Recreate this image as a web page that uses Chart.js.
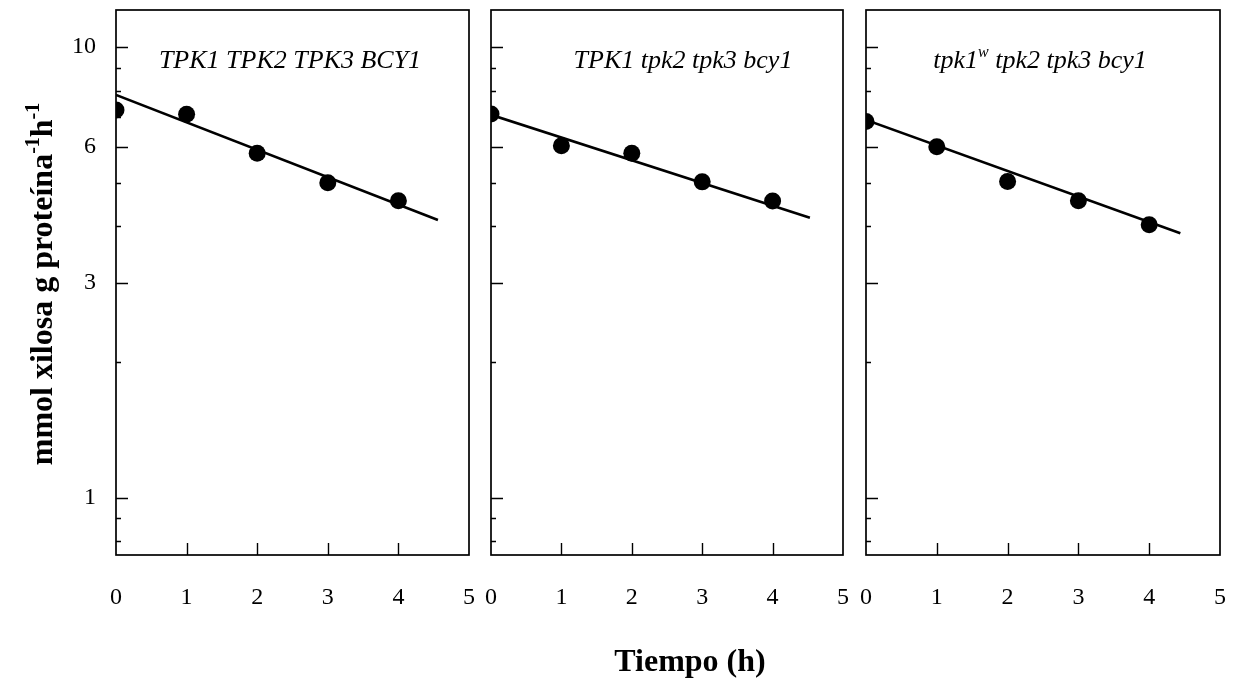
<!DOCTYPE html>
<html>
<head>
<meta charset="utf-8">
<script src="https://cdn.jsdelivr.net/npm/chart.js@4.4.0/dist/chart.umd.min.js"></script>
<style>
  html, body { margin: 0; padding: 0; background: #ffffff; }
  #wrap { position: relative; width: 1245px; height: 685px; overflow: hidden; background: #fff; }
  canvas { position: absolute; left: 0; top: 0; }
</style>
</head>
<body>
<div id="wrap">
  <canvas id="c1" width="1245" height="685"></canvas>
  <canvas id="c2" width="1245" height="685"></canvas>
  <canvas id="c3" width="1245" height="685"></canvas>
</div>
<script>
// ---------- data ----------
const timeH = [0, 1, 2, 3, 4];
const xTickValues = [0, 1, 2, 3, 4, 5];
const xTickLabels = ['0', '1', '2', '3', '4', '5'];
const yTickValues = [1, 3, 6, 10];
const yTickLabels = ['1', '3', '6', '10'];
const yMinorTicks = [0.8, 0.9, 2, 4, 5, 7, 8, 9];
const yMin = 0.746;
const yMax = 12.08;

const wtValues    = [7.25, 7.09, 5.81, 5.00, 4.56];
const tpk1Values  = [7.10, 6.04, 5.81, 5.02, 4.55];
const tpk1wValues = [6.83, 6.01, 5.03, 4.56, 4.03];

const wtFitX    = [0, 4.56];
const wtFitY    = [7.83, 4.13];
const tpk1FitX  = [0, 4.53];
const tpk1FitY  = [7.07, 4.18];
const tpk1wFitX = [0, 4.44];
const tpk1wFitY = [6.89, 3.86];

const titleWt    = [{ t: 'TPK1 TPK2 TPK3 BCY1' }];
const titleTpk1  = [{ t: 'TPK1 tpk2 tpk3 bcy1' }];
const titleTpk1w = [{ t: 'tpk1' }, { t: 'w', sup: true }, { t: ' tpk2 tpk3 bcy1' }];

const yTitle = [{ t: 'mmol xilosa g proteína' }, { t: '-1', sup: true }, { t: 'h' }, { t: '-1', sup: true }];
const xTitle = 'Tiempo (h)';

// ---------- helpers ----------
const SERIF = '"Liberation Serif", "Times New Roman", "DejaVu Serif", serif';

function richWidth(ctx, parts, size, style) {
  let w = 0;
  for (const p of parts) {
    ctx.font = style + ' ' + (p.sup ? Math.round(size * 0.62) : size) + 'px ' + SERIF;
    w += ctx.measureText(p.t).width;
  }
  return w;
}
function drawRich(ctx, parts, cx, baseY, size, style) {
  const w = richWidth(ctx, parts, size, style);
  let x = cx - w / 2;
  ctx.textAlign = 'left';
  ctx.textBaseline = 'alphabetic';
  for (const p of parts) {
    const s = p.sup ? Math.round(size * 0.62) : size;
    ctx.font = style + ' ' + s + 'px ' + SERIF;
    ctx.fillText(p.t, x, p.sup ? baseY - size * 0.42 : baseY);
    x += ctx.measureText(p.t).width;
  }
}

const framePlugin = {
  id: 'frameTicks',
  beforeDatasetsDraw(chart) {
    const { ctx, chartArea: a, scales } = chart;
    ctx.save();
    ctx.strokeStyle = '#000';
    ctx.lineWidth = 1.7;
    ctx.strokeRect(a.left, a.top, a.right - a.left, a.bottom - a.top);
    ctx.lineWidth = 1.4;
    ctx.beginPath();
    for (const v of yTickValues) {
      const y = Math.round(scales.y.getPixelForValue(v)) + 0.5;
      ctx.moveTo(a.left, y); ctx.lineTo(a.left + 12, y);
    }
    for (const v of yMinorTicks) {
      const y = Math.round(scales.y.getPixelForValue(v)) + 0.5;
      ctx.moveTo(a.left, y); ctx.lineTo(a.left + 5, y);
    }
    for (const v of xTickValues) {
      if (v === scales.x.min || v === scales.x.max) continue;
      const x = Math.round(scales.x.getPixelForValue(v)) + 0.5;
      ctx.moveTo(x, a.bottom); ctx.lineTo(x, a.bottom - 12);
    }
    ctx.stroke();
    ctx.restore();
  },
  afterDraw(chart, args, opts) {
    const { ctx } = chart;
    ctx.save();
    ctx.fillStyle = '#000';
    drawRich(ctx, opts.title, opts.titleX, opts.titleY, 26, 'italic');
    if (opts.globalTitles) {
      ctx.save();
      ctx.translate(52, 284);
      ctx.rotate(-Math.PI / 2);
      drawRich(ctx, yTitle, 0, 0, 32, 'bold');
      ctx.restore();
      ctx.font = 'bold 32px ' + SERIF;
      ctx.textAlign = 'center';
      ctx.textBaseline = 'alphabetic';
      ctx.fillText(xTitle, 690, 671);
    }
    ctx.restore();
  }
};

function makePanel(id, values, fitX, fitY, left, right, yWidth, showY, title, titleX, globalTitles) {
  const pts = timeH.map((t, i) => ({ x: t, y: values[i] }));
  const fit = fitX.map((t, i) => ({ x: t, y: fitY[i] }));
  return new Chart(document.getElementById(id), {
    type: 'scatter',
    data: {
      datasets: [
        { data: fit, showLine: true, borderColor: '#000', borderWidth: 2.6, pointRadius: 0, fill: false, order: 2 },
        { data: pts, showLine: false, backgroundColor: '#000', borderColor: '#000', borderWidth: 0, pointRadius: 8.5, order: 1 }
      ]
    },
    options: {
      responsive: false,
      animation: false,
      devicePixelRatio: 1,
      layout: { padding: { left: left - yWidth, right: 1245 - right, top: 10, bottom: 0 } },
      plugins: {
        legend: { display: false },
        tooltip: { enabled: false },
        frameTicks: { title: title, titleX: titleX, titleY: 68, globalTitles: globalTitles }
      },
      scales: {
        x: {
          type: 'linear', min: 0, max: 5, bounds: 'data',
          grid: { display: false, drawTicks: false },
          border: { display: false },
          afterBuildTicks: s => { s.ticks = xTickValues.map(v => ({ value: v })); },
          afterFit: s => { s.height = 130; s.paddingLeft = 0; s.paddingRight = 0; },
          ticks: {
            color: '#000', padding: 28,
            font: { family: SERIF, size: 24 },
            callback: (v) => xTickLabels[xTickValues.indexOf(v)]
          }
        },
        y: {
          type: 'logarithmic', min: yMin, max: yMax, bounds: 'data',
          grid: { display: false, drawTicks: false },
          border: { display: false },
          afterBuildTicks: s => { s.ticks = yTickValues.map(v => ({ value: v })); },
          afterFit: s => { s.width = yWidth; s.paddingTop = 0; s.paddingBottom = 0; },
          ticks: {
            display: showY, color: '#000', padding: 20,
            font: { family: SERIF, size: 24 },
            callback: (v) => yTickLabels[yTickValues.indexOf(v)]
          }
        }
      }
    },
    plugins: [framePlugin]
  });
}

makePanel('c1', wtValues, wtFitX, wtFitY, 116, 469, 116, true, titleWt, 290, true);
makePanel('c2', tpk1Values, tpk1FitX, tpk1FitY, 491, 843, 0, false, titleTpk1, 683, false);
makePanel('c3', tpk1wValues, tpk1wFitX, tpk1wFitY, 866, 1220, 0, false, titleTpk1w, 1040, false);
</script>
</body>
</html>
